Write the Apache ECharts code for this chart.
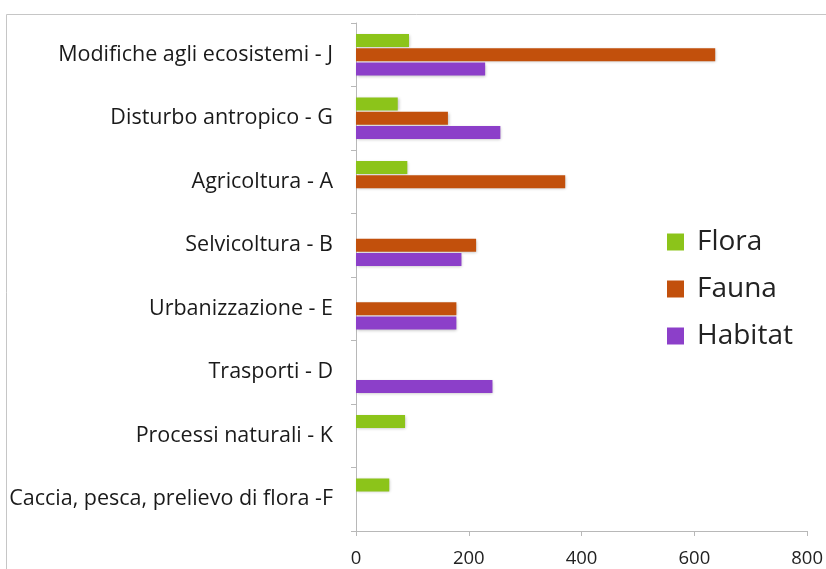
<!DOCTYPE html>
<html>
<head>
<meta charset="utf-8">
<script src="https://cdn.jsdelivr.net/npm/echarts@6/dist/echarts.min.js"></script>
<style>
  html, body { margin: 0; padding: 0; background: #fff; }
  #chart { width: 826px; height: 569px; }
</style>
</head>
<body>
<div id="chart"></div>
<script>
// categories, top to bottom
const categories = [
  'Modifiche agli ecosistemi - J',
  'Disturbo antropico - G',
  'Agricoltura - A',
  'Selvicoltura - B',
  'Urbanizzazione - E',
  'Trasporti - D',
  'Processi naturali - K',
  'Caccia, pesca, prelievo di flora -F'
];
const flora   = [94, 74, 91, null, null, null, 87, 59];
const fauna   = [637, 163, 371, 213, 178, null, null, null];
const habitat = [229, 256, null, 187, 178, 242, null, null];
const xTicks = [0, 200, 400, 600, 800];

const colors = { Flora: '#8cc41a', Fauna: '#c2500c', Habitat: '#8c3fc9' };
const font = '"Open Sans", "DejaVu Sans", sans-serif';

function mkSeries(name, data) {
  return {
    name: name,
    type: 'bar',
    data: data,
    barWidth: 13,
    barGap: '10%',
    itemStyle: {
      color: colors[name],
      shadowColor: 'rgba(0,0,0,0.25)',
      shadowBlur: 3,
      shadowOffsetX: 1,
      shadowOffsetY: 1
    }
  };
}

const chart = echarts.init(document.getElementById('chart'));
chart.setOption({
  animation: false,
  textStyle: { fontFamily: font },
  graphic: [{
    type: 'rect',
    shape: { x: 6.5, y: 14.5, width: 840, height: 600 },
    style: { fill: null, stroke: '#c6c6c6', lineWidth: 1 },
    silent: true
  }],
  grid: { left: 356, right: 17, top: 23, bottom: 38 },
  legend: {
    orient: 'vertical',
    left: 662,
    top: 223,
    itemWidth: 17,
    itemHeight: 17,
    itemGap: 19,
    icon: 'rect',
    data: ['Flora', 'Fauna', 'Habitat'],
    textStyle: { fontSize: 28, color: '#222', fontFamily: font, padding: [0, 0, 0, 8], lineHeight: 28 }
  },
  xAxis: {
    type: 'value',
    min: xTicks[0],
    max: xTicks[xTicks.length - 1],
    interval: 200,
    splitLine: { show: false },
    axisLine: { show: true, lineStyle: { color: '#b8b8b8' } },
    axisTick: { show: true, length: 5, lineStyle: { color: '#b8b8b8' } },
    axisLabel: { fontSize: 18.5, color: '#222', margin: 18 }
  },
  yAxis: {
    type: 'category',
    inverse: true,
    data: categories,
    axisLine: { show: true, lineStyle: { color: '#b8b8b8' } },
    axisTick: { show: true, length: 5, lineStyle: { color: '#b8b8b8' } },
    axisLabel: { fontSize: 21.5, color: '#1a1a1a', margin: 23 }
  },
  series: [
    mkSeries('Flora', flora),
    mkSeries('Fauna', fauna),
    mkSeries('Habitat', habitat)
  ]
});
</script>
</body>
</html>
